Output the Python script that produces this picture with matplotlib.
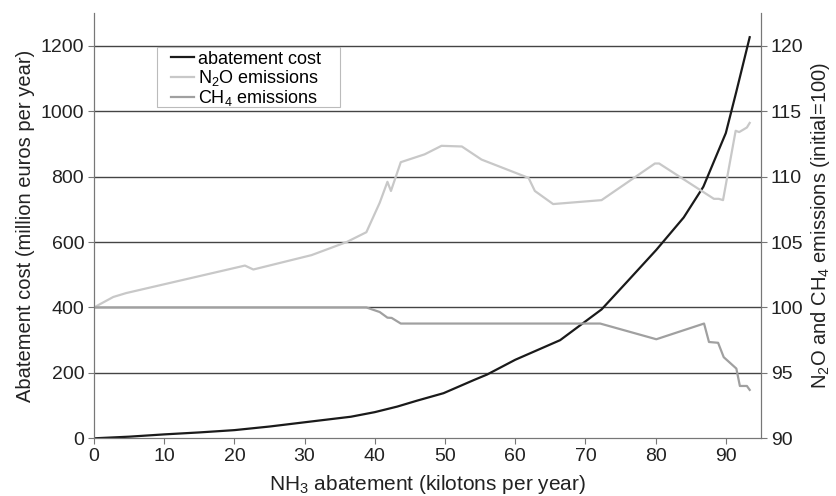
import numpy as np
import matplotlib
matplotlib.use('Agg')
import matplotlib.pyplot as plt
from matplotlib.patches import Rectangle

plt.rcParams['font.family'] = ['Liberation Sans', 'DejaVu Sans']
plt.rcParams['mathtext.fontset'] = 'custom'
plt.rcParams['mathtext.rm'] = 'Liberation Sans'
plt.rcParams['mathtext.default'] = 'regular'

# -----------------------------
# Data
# -----------------------------
cost_x = [0, 5, 10, 15, 20, 25, 30, 36.6, 40, 43.2, 46, 49.8, 54.1, 56, 60, 66.4, 72.3,
          76, 80.1, 84, 86.8, 89.2, 90, 91.5, 93.4]
cost_y = [0, 5, 12, 18, 25, 36, 49, 66, 80, 97, 115, 138, 178, 195, 240, 300, 394,
          480, 576, 675, 769, 892, 933, 1060, 1226]

n2o_x = [0, 2.75, 4.6, 21.5, 22.7, 31.0, 36.0, 38.8, 40.7, 41.8, 42.3, 43.7, 47.1, 49.5,
         52.4, 55.2, 61.9, 62.8, 65.4, 72.3, 79.9, 80.5, 88.3, 89.0, 89.6, 91.4, 91.9, 93.0, 93.4]
n2o_y = [100, 100.8, 101.1, 103.2, 102.9, 104.0, 105.0, 105.75, 108.0, 109.6, 108.9, 111.1,
         111.7, 112.35, 112.3, 111.3, 109.9, 108.9, 107.9, 108.2, 111.0, 111.0, 108.3, 108.3,
         108.2, 113.5, 113.4, 113.75, 114.1]

ch4_x = [0, 38.8, 40.7, 41.8, 42.4, 43.7, 72.1, 80.1, 86.9, 87.6, 88.9, 89.7, 91.5, 92.0,
         93.0, 93.4]
ch4_y = [100, 100, 99.65, 99.22, 99.2, 98.77, 98.77, 97.57, 98.77, 97.36, 97.3, 96.2, 95.33,
         94.0, 94.0, 93.7]

# -----------------------------
# Plotting
# -----------------------------
fig = plt.figure(figsize=(8.36, 4.96), dpi=100)
ax = fig.add_axes([0.1124, 0.1163, 0.7978, 0.8575])
ax2 = ax.twinx()

for y in range(200, 1400, 200):
    ax.axhline(y, color='#444444', lw=1.0, zorder=0)

l1, = ax.plot(cost_x, cost_y, color='#1a1a1a', lw=1.6, label='abatement cost')
l2, = ax2.plot(n2o_x, n2o_y, color='#c8c8c8', lw=1.6, label='N$_2$O emissions')
l3, = ax2.plot(ch4_x, ch4_y, color='#a0a0a0', lw=1.6, label='CH$_4$ emissions')

ax.set_xlim(0, 95)
ax.set_ylim(0, 1300)
ax2.set_ylim(90, 122.5)
ax.set_xticks(range(0, 100, 10))
ax.set_yticks(range(0, 1400, 200))
ax2.set_yticks(range(90, 125, 5))

for a in (ax, ax2):
    a.spines['top'].set_visible(False)
    for s in ('left', 'right', 'bottom'):
        a.spines[s].set_color('#777777')
    a.tick_params(labelsize=14, length=4, pad=3, color='#777777', labelcolor='#222222')

ax.set_xlabel('NH$_3$ abatement (kilotons per year)', fontsize=15, color='#222222', labelpad=6)
ax.set_ylabel('Abatement cost (million euros per year)', fontsize=14.5, color='#222222')
ax2.set_ylabel('N$_2$O and CH$_4$ emissions (initial=100)', fontsize=14.5, color='#222222')

# legend box drawn separately so it can be wider than the entries
ax2.add_patch(Rectangle((0.0945, 0.779), 0.2745, 0.141, transform=ax2.transAxes,
                        facecolor='white', edgecolor='#bbbbbb', lw=0.8, zorder=4))
leg = ax2.legend(handles=[l1, l2, l3], loc='upper left', bbox_to_anchor=(0.110, 0.92),
                 borderaxespad=0, frameon=False, fontsize=13, handlelength=1.25,
                 handletextpad=0.25, labelspacing=0.02, borderpad=0.2)
leg.set_zorder(5)

plt.savefig('out.png', dpi=100)
